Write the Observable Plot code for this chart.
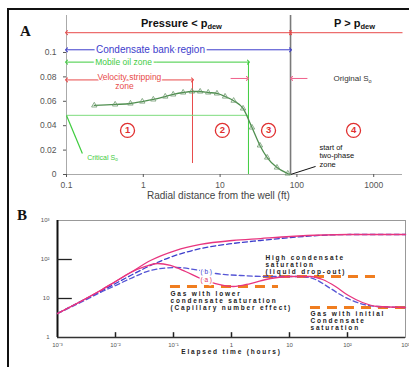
<!DOCTYPE html>
<html><head><meta charset="utf-8">
<script src="https://cdn.jsdelivr.net/npm/d3@7"></script>
<script src="https://cdn.jsdelivr.net/npm/@observablehq/plot@0.6"></script>
<style>
html,body{margin:0;padding:0;background:#fff;}
#wrap{position:relative;width:409px;height:367px;overflow:hidden;font-family:"Liberation Sans",Arial,sans-serif;}
#border{position:absolute;left:7px;top:8px;width:420px;height:380px;border-left:2px solid #111;border-top:2px solid #111;}
#pa{position:absolute;left:0;top:0;}
#pb{position:absolute;left:0;top:205px;}
.letter{position:absolute;font-family:"Liberation Serif","DejaVu Serif",serif;font-weight:bold;font-size:15px;color:#111;}
#pb g[aria-label="text"] text{letter-spacing:1.8px;}
</style></head>
<body><div id="wrap"><div id="border"></div><div id="pa"></div><div id="pb"></div>
<div class="letter" style="left:20px;top:23px">A</div>
<div class="letter" style="left:17px;top:207px">B</div>
</div>
<script>
// ---------- Panel A data ----------
const radiusA = [0.23, 0.43, 0.68, 0.97, 1.35, 1.93, 2.45, 3.3, 4.3, 5.5, 7.0, 9.1, 11.6, 15, 19.9, 26, 33, 41, 55, 76, 81];
const satA    = [0.0566, 0.0574, 0.0582, 0.0598, 0.0615, 0.0639, 0.0656, 0.0672, 0.068, 0.068, 0.0672, 0.0664, 0.0639, 0.0605, 0.0541, 0.0385, 0.0238, 0.0139, 0.0057, 0.0008, 0];
const xTicksA = [0.1, 1, 10, 100, 1000];
const xTickLabelsA = ["0.1", "1", "10", "100", "1000"];
const yTicksA = [0, 0.02, 0.04, 0.06, 0.08, 0.1];
const yTickLabelsA = ["0", "0.02", "0.04", "0.06", "0.08", "0.1"];
const rDew = 82.6, rMobile = 23.4, rVelocity = 4.37, criticalSo = 0.0485;
const zoneNames = ["1", "2", "3", "4"];
const zoneRadius = [0.623, 10.7, 42.7, 546];
const zoneLevel = 0.0361;
const titlesA = [{t: "Pressure < p_{dew}", r: 3.14, v: 0.1238}, {t: "P > p_{dew}", r: 562, v: 0.1238}];

// ---------- Panel B data ----------
const timeUpperSolid = [0.001, 0.0025, 0.0055, 0.01, 0.0182, 0.0401, 0.108, 0.292, 1.04, 3.16, 10.4, 108, 1000];
const valUpperSolid  = [4.13, 8.38, 16.0, 27.3, 46.4, 94.3, 170, 243, 307, 345, 389, 437, 437];
const timeUpperDash  = [0.001, 0.0025, 0.0055, 0.01, 0.0182, 0.0401, 0.108, 0.292, 1.04, 3.16, 10.4, 108, 1000];
const valUpperDash   = [4.13, 8.38, 15.1, 24.2, 38.9, 70.2, 127, 191, 257, 307, 366, 437, 437];
const timeA = [0.001, 0.0025, 0.0055, 0.01, 0.0182, 0.0329, 0.053, 0.0887, 0.161, 0.292, 0.53, 1.08, 2.13, 4.7, 10.4, 23.0, 37.1, 62.1, 104, 181, 329, 1000];
const valA  = [4.13, 8.38, 16.0, 27.3, 46.4, 66.2, 78.9, 70.2, 49.3, 32.6, 24.2, 20.3, 24.2, 32.6, 36.6, 36.6, 30.7, 20.3, 11.9, 7.89, 6.23, 5.87];
const timeB = [0.001, 0.0025, 0.0055, 0.01, 0.0182, 0.0401, 0.108, 0.292, 0.53, 1.43, 4.18, 15.5, 28.1, 50.9, 85.3, 167, 329, 1000];
const valB  = [4.13, 7.89, 14.3, 21.5, 32.6, 52.2, 62.3, 52.2, 43.8, 38.9, 36.6, 36.6, 30.7, 18.1, 11.3, 7.44, 6.23, 5.87];
const orangeLevels = [20.3, 36.6, 5.87];
const orangeStart  = [0.0887, 3.56, 23.0];
const orangeEnd    = [6.46, 371, 1000];
const xTicksB = [0.001, 0.01, 0.1, 1, 10, 100, 1000];
const xTickLabelsB = ["10⁻³", "10⁻²", "10⁻¹", "1", "10", "10²", "10³"];
const yTicksB = [1, 10, 100, 1000];
const yTickLabelsB = ["1", "10", "10²", "10³"];

const font = "Liberation Sans, Arial, sans-serif";
const red = "#e84a4a", blue = "#3d3dcc", green = "#3fcc3f", pink = "#f0608a";

// ---------- Panel A ----------
const curveA = radiusA.map((r, i) => ({r, s: satA[i]}));
const zones = zoneNames.map((n, i) => ({n, r: zoneRadius[i], v: zoneLevel}));
const lk = (pairs, y) => pairs.map(([a, b]) => ({x1: a, x2: b, y}));

const A = Plot.plot({
  width: 409, height: 205, marginLeft: 66, marginRight: 7, marginTop: 15, marginBottom: 31,
  x: {type: "log", domain: [0.1, 2370]},
  y: {domain: [0, 0.1303]},
  style: {fontFamily: font, fontSize: "8.5px", background: "transparent", overflow: "visible"},
  marks: [
    Plot.ruleX([0.1], {stroke: "#aaa"}),
    Plot.ruleY([0], {stroke: "#aaa"}),
    Plot.axisY({ticks: yTicksA, tickFormat: d => yTickLabelsA[yTicksA.indexOf(d)], tickSize: 3, tickPadding: 7, color: "#555", fontSize: 8.5, label: null}),
    Plot.axisX({ticks: xTicksA, tickFormat: d => xTickLabelsA[xTicksA.indexOf(d)], tickSize: 3, tickPadding: 4, color: "#555", fontSize: 8.5, label: null}),
    Plot.text(["Radial distance from the well (ft)"], {x: () => 9.5, text: d => d, frameAnchor: "bottom", dy: 24, fontSize: 10, fill: "#444"}),
    // boundaries
    Plot.ruleX([rDew], {stroke: "#7a7a7a", strokeWidth: 1.6}),
    Plot.ruleX([rMobile], {y1: 0, y2: 0.0921, stroke: green}),
    Plot.ruleX([rVelocity], {y1: 0.009, y2: 0.0775, stroke: red}),
    Plot.ruleY([criticalSo], {x1: 0.1, x2: rMobile, stroke: "#7ddc7d"}),
    Plot.link([{x1: 0.1, y1: 0.0484, x2: 0.161, y2: 0.0172}], {x1: "x1", y1: "y1", x2: "x2", y2: "y2", stroke: green, strokeWidth: 1.2}),
    // span arrows
    Plot.link(lk([[3, 0.1], [3, rDew], [2370, rDew]], 0.1162), {x1: "x1", x2: "x2", y1: "y", y2: "y", stroke: red, markerEnd: "arrow"}),
    Plot.link(lk([[3, 0.1], [3, rDew]], 0.1022), {x1: "x1", x2: "x2", y1: "y", y2: "y", stroke: blue, markerEnd: "arrow"}),
    Plot.link(lk([[1.5, 0.1], [1.5, rMobile]], 0.0921), {x1: "x1", x2: "x2", y1: "y", y2: "y", stroke: green, markerEnd: "arrow"}),
    Plot.link(lk([[0.66, 0.1], [0.66, rVelocity]], 0.0775), {x1: "x1", x2: "x2", y1: "y", y2: "y", stroke: red, markerEnd: "arrow"}),
    Plot.link(lk([[13.7, 22.7], [137, 85.1]], 0.0787), {x1: "x1", x2: "x2", y1: "y", y2: "y", stroke: pink, markerEnd: "arrow"}),
    // labels
    Plot.text(titlesA, {x: "r", y: "v", text: "t", fontSize: 11, fontWeight: "bold", fill: "#111"}),
    Plot.text([{t: "Condensate bank region", r: 1.24, v: 0.1022}], {x: "r", y: "v", text: "t", fill: blue, fontSize: 10, stroke: "white", strokeWidth: 4, paintOrder: "stroke"}),
    Plot.text([{t: "Mobile oil zone", r: 0.553, v: 0.0921}], {x: "r", y: "v", text: "t", fill: green, fontSize: 8.5, stroke: "white", strokeWidth: 4, paintOrder: "stroke"}),
    Plot.text([{t: "Velocity stripping", r: 0.66, v: 0.0797}, {t: "zone", r: 0.568, v: 0.0722}], {x: "r", y: "v", text: "t", fill: red, fontSize: 8.5, stroke: "white", strokeWidth: 2.5, paintOrder: "stroke"}),
    Plot.text([{t: "Critical S_{o}", r: 0.294, v: 0.0139}], {x: "r", y: "v", text: "t", fill: green, fontSize: 7}),
    Plot.text([{t: "Original S_{o}", r: 530, v: 0.0787}], {x: "r", y: "v", text: "t", fill: "#333", fontSize: 8}),
    Plot.link([{x1: rDew, y1: 0, x2: 175, y2: 0.0066}], {x1: "x1", y1: "y1", x2: "x2", y2: "y2", stroke: "#111"}),
    Plot.text([{t: "start of", v: 0.0224}, {t: "two-phase", v: 0.0152}, {t: "zone", v: 0.008}], {x: () => 197, y: "v", text: "t", textAnchor: "start", fill: "#111", fontSize: 7.5}),
    // curve
    Plot.line(curveA, {x: "r", y: "s", stroke: "#4f8f4f", strokeWidth: 1.3, curve: "monotone-x"}),
    Plot.dot(curveA.slice(0, -1), {x: "r", y: "s", symbol: "triangle", r: 2, stroke: "#6f996f", strokeWidth: 0.8, fill: "none"}),
    // zone numbers
    Plot.dot(zones, {x: "r", y: "v", r: 7, stroke: "#e03030", strokeWidth: 1.3, fill: "white"}),
    Plot.text(zones, {x: "r", y: "v", text: "n", fill: "#e03030", fontWeight: "bold", fontSize: 9.5})
  ]
});

// ---------- Panel B ----------
const toRows = (ts, vs) => ts.map((t, i) => ({t, v: vs[i]}));
const orange = orangeLevels.map((v, i) => ({v, x1: orangeStart[i], x2: orangeEnd[i]}));
const B = Plot.plot({
  width: 409, height: 162, marginLeft: 57, marginRight: 4, marginTop: 15, marginBottom: 30,
  x: {type: "log", domain: [0.001, 1000]},
  y: {type: "log", domain: [1, 1000]},
  style: {fontFamily: font, fontSize: "6px", background: "transparent", overflow: "visible"},
  marks: [
    Plot.frame({stroke: "#999"}),
    Plot.ruleX([0.001], {stroke: "#111", strokeWidth: 2}),
    Plot.ruleY([1], {stroke: "#333", strokeWidth: 1.5}),
    Plot.axisY({ticks: yTicksB, tickFormat: d => yTickLabelsB[yTicksB.indexOf(d)], tickSize: 0, tickPadding: 8, color: "#555", fontSize: 6, label: null}),
    Plot.axisX({ticks: xTicksB, tickFormat: d => xTickLabelsB[xTicksB.indexOf(d)], tickSize: 0, tickPadding: 5, color: "#555", fontSize: 6, label: null}),
    Plot.ruleX(xTicksB.slice(1, -1), {y1: 1, y2: 1.33, stroke: "#222", strokeWidth: 1.5}),
    Plot.ruleY([100, 10], {x1: 0.001, x2: 0.0018, stroke: "#222", strokeWidth: 1.3}),
    Plot.text(["Elapsed time (hours)"], {x: () => 1, text: d => d, frameAnchor: "bottom", dy: 16, fontSize: 6.5, fontWeight: "bold", fill: "#222"}),
    Plot.ruleY(orange, {y: "v", x1: "x1", x2: "x2", stroke: "#f07d1f", strokeWidth: 3, strokeDasharray: "10,7"}),
    Plot.line(toRows(timeUpperDash, valUpperDash), {x: "t", y: "v", stroke: blue, strokeWidth: 1.3, strokeDasharray: "5,3", curve: "monotone-x"}),
    Plot.line(toRows(timeB, valB), {x: "t", y: "v", stroke: "#5555d5", strokeWidth: 1.3, strokeDasharray: "5,3", curve: "monotone-x"}),
    Plot.line(toRows(timeUpperSolid, valUpperSolid), {x: "t", y: "v", stroke: "#e8357f", strokeWidth: 1.3, curve: "monotone-x"}),
    Plot.line(toRows(timeA, valA), {x: "t", y: "v", stroke: "#e8357f", strokeWidth: 1.3, curve: "monotone-x"}),
    Plot.text([{s: "(b)", t: 0.292, v: 49.3}], {x: "t", y: "v", text: "s", textAnchor: "start", fill: blue, fontSize: 6.5, stroke: "white", strokeWidth: 3, paintOrder: "stroke"}),
    Plot.text([{s: "(a)", t: 0.292, v: 30.7}], {x: "t", y: "v", text: "s", textAnchor: "start", fill: "#e03060", fontSize: 6.5, stroke: "white", strokeWidth: 3, paintOrder: "stroke"}),
    Plot.text([{s: "High condensate", v: 112}, {s: "saturation", v: 74.5}, {s: "(liquid drop-out)", v: 49.3}], {x: () => 3.85, y: "v", text: "s", textAnchor: "start", fontSize: 6.5, fontWeight: "bold", fill: "#222"}),
    Plot.text([{s: "Gas with lower", v: 13.4}, {s: "condensate saturation", v: 8.89}, {s: "(Capillary number effect)", v: 5.87}], {x: () => 0.0887, y: "v", text: "s", textAnchor: "start", fontSize: 6.5, fontWeight: "bold", fill: "#222"}),
    Plot.text([{s: "Gas with initial", v: 4.13}, {s: "Condensate", v: 2.73}, {s: "saturation", v: 1.80}], {x: () => 23.0, y: "v", text: "s", textAnchor: "start", fontSize: 6.5, fontWeight: "bold", fill: "#222"})
  ]
});

function applySub(svg) {
  d3.select(svg).selectAll("text, tspan").each(function () {
    if (this.children.length) return;
    const s = this.textContent;
    const m = s.match(/^(.*)_\{(.*)\}(.*)$/);
    if (!m) return;
    const el = d3.select(this);
    el.text(null);
    el.append("tspan").text(m[1]);
    el.append("tspan").attr("dy", "0.3em").attr("font-size", "0.68em").text(m[2]);
  });
}
applySub(A);
document.getElementById("pa").appendChild(A);
document.getElementById("pb").appendChild(B);
</script>
</body></html>
